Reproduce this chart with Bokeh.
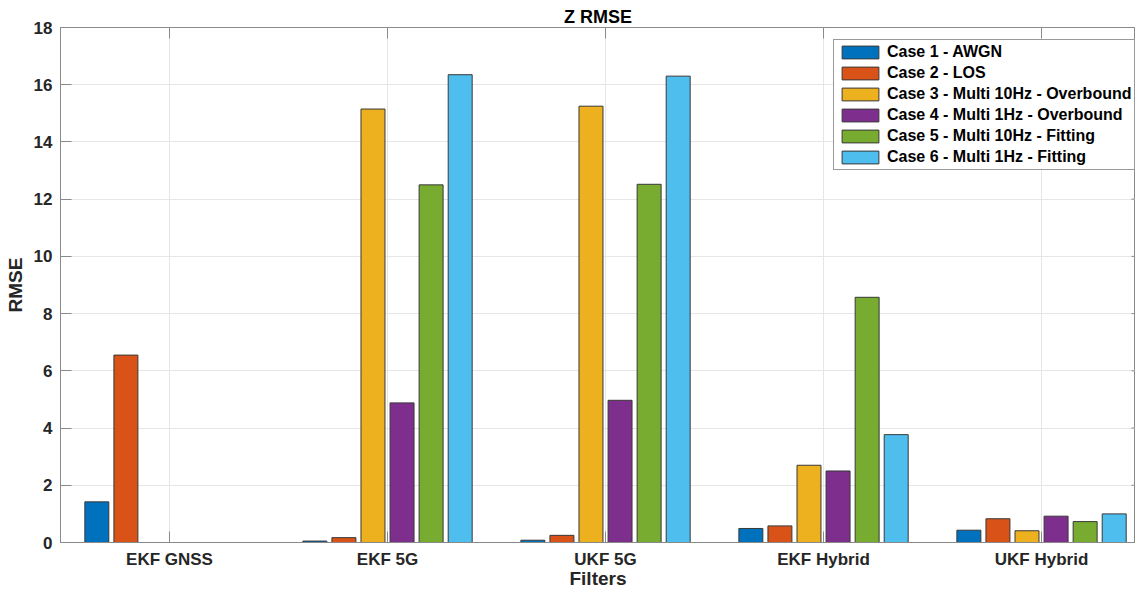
import math
from bokeh.plotting import figure
from bokeh.models import ColumnDataSource, Range1d, FixedTicker, Legend
from bokeh.transform import dodge
from bokeh.embed import file_html
from bokeh.resources import INLINE

filters = ["EKF GNSS", "EKF 5G", "UKF 5G", "EKF Hybrid", "UKF Hybrid"]
case_names = [
    "Case 1 - AWGN",
    "Case 2 - LOS",
    "Case 3 - Multi 10Hz - Overbound",
    "Case 4 - Multi 1Hz - Overbound",
    "Case 5 - Multi 10Hz - Fitting",
    "Case 6 - Multi 1Hz - Fitting",
]
case1 = [1.42, 0.05, 0.08, 0.49, 0.43]
case2 = [6.55, 0.17, 0.25, 0.58, 0.83]
case3 = [0.0, 15.15, 15.25, 2.70, 0.41]
case4 = [0.0, 4.88, 4.97, 2.50, 0.92]
case5 = [0.0, 12.50, 12.52, 8.57, 0.73]
case6 = [0.0, 16.35, 16.30, 3.77, 1.00]
y_ticks = [0, 2, 4, 6, 8, 10, 12, 14, 16, 18]

colors = ["#0072BD", "#D95319", "#EDB120", "#7E2F8E", "#77AC30", "#4DBEEE"]
series = [case1, case2, case3, case4, case5, case6]

FONT = "Liberation Sans"
TXT = "#262626"
AX = "#8a8a8a"
GRID = "#e6e6e6"

x_pos = list(range(1, len(filters) + 1))
x_start, x_end = 0.5, 5.431
y_start, y_end = y_ticks[0], y_ticks[-1]

src = ColumnDataSource(dict(x=x_pos, **{f"c{i}": s for i, s in enumerate(series)}))

p = figure(width=1135, height=591, output_backend="svg", toolbar_location=None,
           x_range=Range1d(x_start, x_end), y_range=Range1d(y_start, y_end),
           min_border_left=60, min_border_right=0, min_border_bottom=49,
           min_border_top=27)

p.title.text = "Z RMSE"
p.title.align = "center"
p.title.text_font = FONT
p.title.text_font_size = "18px"
p.title.text_font_style = "bold"
p.title.text_color = "#000000"
p.title.standoff = 1

p.outline_line_color = AX
p.outline_line_width = 1
p.outline_line_alpha = 1.0

pitch = 0.8 / 6
bw = 0.11
legend_items = []
for i, (name, col) in enumerate(zip(case_names, colors)):
    off = (i - 2.5) * pitch
    r = p.vbar(x=dodge("x", off, range=p.x_range), top=f"c{i}", width=bw, bottom=0,
               source=src, fill_color=col, line_color="#383838", line_width=1)
    legend_items.append((name, [r]))

# inward ticks on the top and right edges of the box
p.scatter(x=x_pos, y=[y_end] * len(x_pos), marker="dash", angle=math.pi / 2,
          size=22, line_color=AX, line_width=1)
p.scatter(x=[x_end] * len(y_ticks), y=y_ticks, marker="dash",
          size=8, line_color=AX, line_width=1)

xa = p.xaxis[0]
xa.ticker = FixedTicker(ticks=x_pos)
xa.major_label_overrides = {i + 1: f for i, f in enumerate(filters)}
ya = p.yaxis[0]
ya.ticker = FixedTicker(ticks=y_ticks)
for ax in (xa, ya):
    ax.axis_line_color = AX
    ax.major_tick_line_color = AX
    ax.major_tick_in = 11
    ax.major_tick_out = 0
    ax.minor_tick_line_color = None
    ax.major_label_text_font = FONT
    ax.major_label_text_font_size = "17px"
    ax.major_label_text_font_style = "bold"
    ax.major_label_text_color = TXT
    ax.axis_label_text_font = FONT
    ax.axis_label_text_font_size = "19px"
    ax.axis_label_text_font_style = "bold"
    ax.axis_label_text_color = TXT
xa.axis_label = "Filters"
ya.axis_label = "RMSE"
xa.major_label_standoff = 7
xa.axis_label_standoff = -4
ya.major_label_standoff = 8
ya.axis_label_standoff = 5

p.xgrid.ticker = FixedTicker(ticks=x_pos)
p.ygrid.ticker = FixedTicker(ticks=y_ticks)
p.xgrid.grid_line_color = GRID
p.ygrid.grid_line_color = GRID

legend = Legend(items=legend_items, location=(773, 372))
legend.label_text_font = FONT
legend.label_text_font_size = "16px"
legend.label_text_font_style = "bold"
legend.label_text_color = "#000000"
legend.glyph_width = 46
legend.glyph_height = 16
legend.label_height = 17
legend.spacing = 3
legend.padding = 3
legend.margin = 0
legend.label_standoff = 4
legend.border_line_color = "#333333"
legend.border_line_width = 1
legend.background_fill_alpha = 1.0
p.add_layout(legend, "center")

open("out.html", "w").write(file_html(p, INLINE))
